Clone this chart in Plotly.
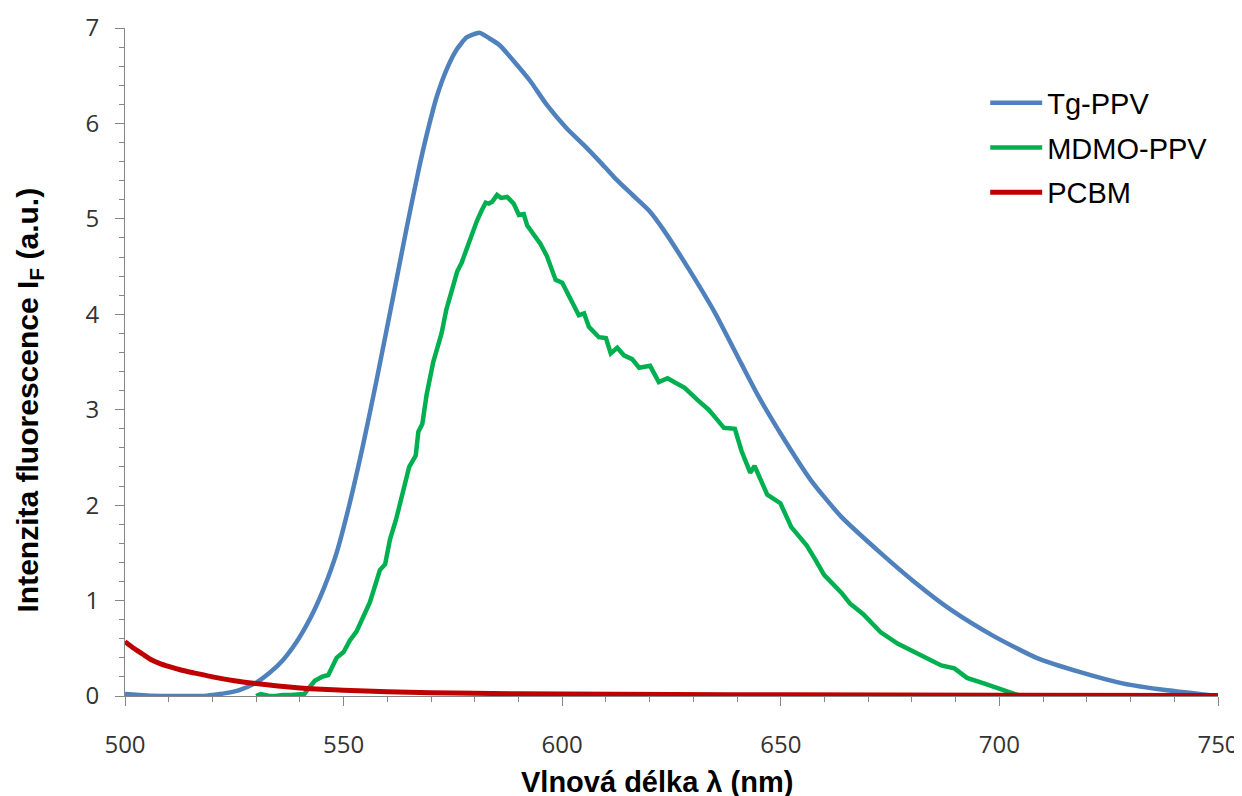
import plotly.graph_objects as go

# ---------------- data ----------------
tg_x = [500, 505, 510, 515, 518, 520, 523, 526, 530, 533, 536, 539, 541.5, 543.5, 545.5,
        548.4, 551.4, 554.5, 557.5, 561.4, 564.4, 567.1, 569, 571.3, 573.6, 575.8, 578.1,
        579.5, 581.1, 583.4, 585.7, 588.8, 592.6, 596.4, 601, 604.8, 608.6, 612, 616.1,
        620, 623.1, 629, 635, 641, 644.9, 650.9, 656.9, 663.8, 672.8, 680.7, 688.7,
        698.6, 708.5, 718.5, 728.4, 738.4, 750]
tg_y = [0.02, 0.005, 0.0, 0.0, 0.0, 0.01, 0.03, 0.06, 0.14, 0.24, 0.37, 0.55, 0.74, 0.92, 1.13,
        1.50, 2.02, 2.64, 3.30, 4.20, 4.90, 5.50, 5.88, 6.28, 6.57, 6.77, 6.90,
        6.93, 6.95, 6.89, 6.82, 6.66, 6.45, 6.20, 5.95, 5.78, 5.60, 5.43, 5.25,
        5.08, 4.89, 4.47, 4.01, 3.48, 3.14, 2.68, 2.26, 1.88, 1.50, 1.19, 0.91,
        0.63, 0.40, 0.25, 0.13, 0.06, 0.0]

mdmo_x = [530, 531, 532, 533, 534.5, 536, 538, 540, 541, 542, 543.4, 545, 546.5, 548.4, 550,
          551.4, 553, 554.5, 556, 557.5, 558.3, 559.5, 560.6, 562, 563.7, 565, 566.5, 567.1,
          568, 569, 570.5, 572.4, 573.5, 574.7, 576, 577, 578.2, 579.3, 580.5, 581.6, 582.5,
          583.2, 584, 585.1, 586, 587.4, 588.9, 590.1, 591.2, 592, 593.9, 595, 596.5, 598.5,
          600, 601.5, 603.8, 605, 606.1, 608.4, 610, 611.1, 612.6, 614.1, 616, 617.6, 620.1,
          622.1, 624.1, 625.6, 628, 631, 633.5, 635, 637, 639.5, 641, 643, 644, 646.9, 649.9,
          652.4, 655.9, 657.9, 659.9, 663.9, 665.8, 668.8, 672.8, 676.7, 681.7, 686.7, 689.7,
          692.6, 696.6, 700.6, 703.6, 705]
mdmo_y = [0.0, 0.02, 0.01, 0.0, 0.0, 0.01, 0.01, 0.02, 0.02, 0.08, 0.16, 0.20, 0.22, 0.40, 0.46,
          0.58, 0.68, 0.83, 0.98, 1.20, 1.32, 1.38, 1.64, 1.85, 2.17, 2.40, 2.52, 2.77,
          2.85, 3.16, 3.50, 3.80, 4.05, 4.26, 4.45, 4.54, 4.70, 4.82, 4.98, 5.09, 5.17,
          5.16, 5.18, 5.25, 5.22, 5.23, 5.16, 5.04, 5.05, 4.93, 4.80, 4.74, 4.61, 4.36,
          4.33, 4.19, 3.99, 4.01, 3.87, 3.76, 3.75, 3.59, 3.65, 3.57, 3.53, 3.44, 3.46,
          3.29, 3.33, 3.29, 3.23, 3.10, 3.00, 2.92, 2.81, 2.80, 2.57, 2.34, 2.41, 2.11, 2.02,
          1.77, 1.58, 1.43, 1.27, 1.08, 0.97, 0.86, 0.67, 0.55, 0.44, 0.32, 0.29,
          0.19, 0.13, 0.06, 0.02, 0.0]

pcbm_x = [500, 502, 504, 506, 508, 510, 513, 516, 520, 525, 530, 535, 540, 545, 550,
          560, 570, 580, 600, 625, 650, 700, 750]
pcbm_y = [0.57, 0.50, 0.44, 0.38, 0.34, 0.31, 0.27, 0.24, 0.20, 0.16, 0.13, 0.105, 0.085, 0.07,
          0.06, 0.045, 0.035, 0.028, 0.02, 0.015, 0.012, 0.008, 0.006]

series_names = ["Tg-PPV", "MDMO-PPV", "PCBM"]
series_colors = ["#4F81BD", "#00B050", "#C00000"]
series_shapes = ["spline", "linear", "spline"]
series_widths = [4.5, 4.5, 5]

x_range = [500, 750]
y_range = [0, 7]
x_title = "Vlnová délka λ (nm)"
y_title = "Intenzita fluorescence I<sub>F</sub> (a.u.)"

# ---------------- figure ----------------
# (the page body has an 8px default margin, so the figure is 8px smaller
#  and all margins are reduced by 8px to keep absolute positions)
PLOT_W = 1093
PLOT_H = 660

fig = go.Figure()
for name, xs, ys, col, shp, wd in zip(series_names, [tg_x, mdmo_x, pcbm_x],
                                      [tg_y, mdmo_y, pcbm_y], series_colors,
                                      series_shapes, series_widths):
    fig.add_trace(go.Scatter(x=xs, y=ys, mode="lines", name=name, legendgroup=name,
                             line=dict(color=col, width=wd, shape=shp, smoothing=0.6)))

axis_col = "#868686"
tick_font = dict(family="Open Sans", size=24, color="#333333")

fig.update_layout(
    width=1234, height=788,
    margin=dict(l=117, r=24, t=20, b=100, autoexpand=False),
    paper_bgcolor="white", plot_bgcolor="white",
    showlegend=True,
    legend=dict(x=0.787, y=0.926, xanchor="left", yanchor="top",
                font=dict(family="Liberation Sans", size=29, color="black"),
                tracegroupgap=4, itemwidth=52, bgcolor="rgba(0,0,0,0)"),
    xaxis=dict(range=x_range, dtick=50, tick0=500, showgrid=False, zeroline=False,
               showline=True, linecolor=axis_col, linewidth=1,
               ticks="outside", ticklen=9, tickcolor=axis_col, tickwidth=1,
               tickfont=tick_font, ticklabelstandoff=18,
               minor=dict(dtick=10, ticks="outside", ticklen=5, tickcolor=axis_col,
                          tickwidth=1, showgrid=False)),
    yaxis=dict(range=y_range, dtick=1, tick0=0, showgrid=False, zeroline=False,
               showline=True, linecolor=axis_col, linewidth=1,
               ticks="outside", ticklen=9, tickcolor=axis_col, tickwidth=1,
               tickfont=tick_font, ticklabelstandoff=11,
               minor=dict(dtick=0.2, ticks="outside", ticklen=5, tickcolor=axis_col,
                          tickwidth=1, showgrid=False)),
    # overlay axes to give major ticks the "cross" look
    xaxis2=dict(range=x_range, dtick=50, tick0=500, overlaying="x", anchor="y", side="bottom",
                showgrid=False, zeroline=False, showline=False, showticklabels=False,
                ticks="inside", ticklen=9, tickcolor=axis_col, tickwidth=1),
    yaxis2=dict(range=y_range, dtick=1, tick0=0, overlaying="y", anchor="x", side="left",
                showgrid=False, zeroline=False, showline=False, showticklabels=False,
                ticks="inside", ticklen=9, tickcolor=axis_col, tickwidth=1),
)

fig.add_annotation(text=x_title, xref="paper", yref="paper", x=(657 - 125) / PLOT_W,
                   y=-(773 - 688) / PLOT_H, xanchor="center", yanchor="middle", showarrow=False,
                   font=dict(family="Liberation Sans", size=29, color="black", weight="bold"))
fig.add_annotation(text=y_title, xref="paper", yref="paper", x=-(125 - 29) / PLOT_W,
                   y=(688 - 396) / PLOT_H, xanchor="center", yanchor="middle", showarrow=False,
                   textangle=-90,
                   font=dict(family="Liberation Sans", size=30, color="black", weight="bold"))

fig.write_html("out.html")
